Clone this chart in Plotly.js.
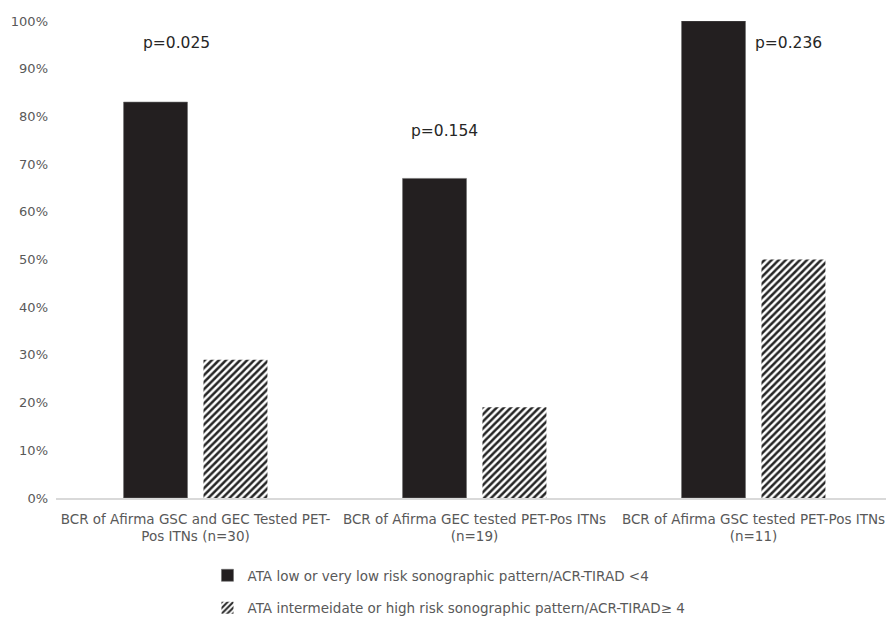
<!DOCTYPE html>
<html>
<head>
<meta charset="utf-8">
<script src="https://cdn.plot.ly/plotly-3.0.1.min.js"></script>
<style>html,body{margin:0;padding:0;background:#fff;}#chart{width:886px;height:619px;}</style>
</head>
<body>
<div id="chart"></div>
<script>
const categories = [
  "BCR of Afirma GSC and GEC Tested PET-<br>Pos ITNs (n=30)",
  "BCR of Afirma GEC tested PET-Pos ITNs<br>(n=19)",
  "BCR of Afirma GSC tested PET-Pos ITNs<br>(n=11)"
];
const seriesNames = [
  "ATA low or very low risk sonographic pattern/ACR-TIRAD <4",
  "ATA intermeidate or high risk sonographic pattern/ACR-TIRAD\u2265 4"
];
const lowRisk = [0.83, 0.67, 1.00];
const highRisk = [0.29, 0.19, 0.50];
const pValues = ["p=0.025", "p=0.154", "p=0.236"];
const pY = [0.954, 0.769, 0.954];
const pXShift = [-19.5, -30, 35.5];

const font = "'DejaVu Sans', sans-serif";

const traces = [
  {
    type: "bar", x: categories, y: lowRisk, name: seriesNames[0],
    legendgroup: "a",
    marker: {color: "#231f20", line: {color: "#6b6b6b", width: 0.6}},
    hoverinfo: "skip"
  },
  {
    type: "bar", x: categories, y: highRisk, name: seriesNames[1],
    legendgroup: "b",
    marker: {color: "#ffffff", line: {width: 0},
      pattern: {shape: "/", fillmode: "replace", bgcolor: "#ffffff", fgcolor: "#262626", size: 5, solidity: 0.5}},
    hoverinfo: "skip"
  }
];

const annotations = categories.map((c, i) => ({
  x: c, y: pY[i], xref: "x", yref: "y", text: pValues[i], showarrow: false,
  xshift: pXShift[i],
  font: {family: font, size: 15.5, color: "#262626"}
}));

const layout = {
  width: 886, height: 619,
  margin: {l: 56, r: 0, t: 21, b: 121, pad: 0, autoexpand: false},
  paper_bgcolor: "#ffffff", plot_bgcolor: "#ffffff",
  barmode: "group", bargap: 0.427, bargroupgap: 0.2,
  font: {family: font, color: "#595959"},
  xaxis: {
    type: "category", range: [-0.5, 2.475], showline: true, linecolor: "#d9d9d9", linewidth: 1.5,
    showgrid: false, zeroline: false, ticks: "",
    tickfont: {family: font, size: 13.5, color: "#595959"}, automargin: false,
    ticklabelstandoff: 8
  },
  yaxis: {
    range: [0, 1], dtick: 0.1, tickformat: ".0%", showgrid: false, zeroline: false,
    showline: false, ticks: "", tickfont: {family: font, size: 13, color: "#595959"}, automargin: false,
    ticklabelstandoff: 7
  },
  showlegend: true,
  legend: {
    x: 0.1825, y: -0.13, xanchor: "left", yanchor: "top", orientation: "v",
    traceorder: "grouped", tracegroupgap: 12,
    font: {family: font, size: 13.5, color: "#595959"},
    itemwidth: 30, bgcolor: "rgba(0,0,0,0)"
  },
  annotations: annotations
};

Plotly.newPlot("chart", traces, layout, {staticPlot: true, displayModeBar: false});
</script>
</body>
</html>
